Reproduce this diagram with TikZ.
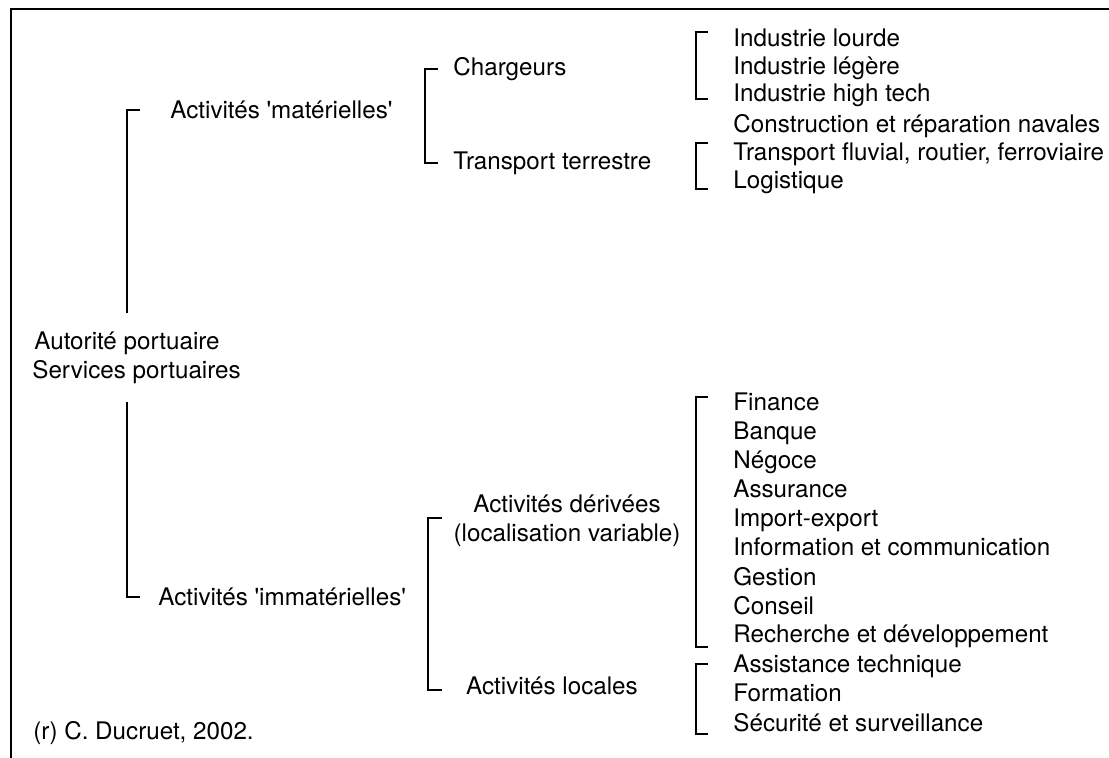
\documentclass[tikz,border=0pt]{standalone}
\usepackage{fontspec}
\setmainfont{TeX Gyre Heros}
\begin{document}
\begin{tikzpicture}[x=.5pt,y=-.5pt,
                    frame/.style={line width=1pt},
                    brk/.style={line width=.8pt},
                    lbl/.style={anchor=base west,inner sep=0pt},
                    mid/.style={anchor=base,inner sep=0pt},
                    every node/.style={font=\fontsize{12.1}{14.5}\selectfont}]
 \useasboundingbox (0,0) rectangle (1109,758);
 \draw[frame] (1109,9)--(11,9)--(11,758);
 % root
 \node[lbl] (auto) at (34,350) {Autorité portuaire};
 \node[lbl] (serv) at (32,379) {Services portuaires};
 \coordinate (mtop) at (127,110); \coordinate (mcuta) at (127,313);
 \coordinate (mcutb) at (127,402); \coordinate (mbot) at (127,597);
 \draw[brk] (mtop) ++(13,0)--(mtop)--(mcuta);
 \draw[brk] (mcutb)--(mbot)--++(13,0);
 \node[lbl] (mat) at (170,119) {Activités \textquotesingle matérielles\textquotesingle};
 \node[lbl] (immat) at (158,606) {Activités \textquotesingle immatérielles\textquotesingle};
 % materielles
 \coordinate (atop) at (425,69); \coordinate (abot) at (425,163);
 \draw[brk] (atop) ++(13,0)--(atop)--(abot)--++(13,0);
 \node[lbl] (charg) at (453,76) {Chargeurs};
 \node[lbl] (terr) at (453,170) {Transport terrestre};
 \coordinate (btop) at (696,32); \coordinate (bbot) at (696,99);
 \draw[brk] (btop) ++(12,0)--(btop)--(bbot)--++(12,0);
 \coordinate (ctop) at (696,143); \coordinate (cbot) at (696,189);
 \draw[brk] (ctop) ++(12,0)--(ctop)--(cbot)--++(12,0);
 \node[lbl] (lourd) at (733,47) {Industrie lourde};
 \node[lbl] (leger) at (733,75) {Industrie légère};
 \node[lbl] (htech) at (733,102) {Industrie high tech};
 \node[lbl] (naval) at (733,133) {Construction et réparation navales};
 \node[lbl] (fluv) at (733,161) {Transport fluvial, routier, ferroviaire};
 \node[lbl] (logi) at (733,189) {Logistique};
 % immaterielles
 \coordinate (dtop) at (428,518); \coordinate (dbot) at (428,690);
 \draw[brk] (dtop) ++(14,0)--(dtop)--(dbot)--++(14,0);
 \node[mid] (deriv) at (567,513) {Activités dérivées};
 \node[mid] (locvar) at (567,542) {(localisation variable)};
 \node[mid] (local) at (552,695) {Activités locales};
 \coordinate (etop) at (696,397); \coordinate (ebot) at (696,647);
 \draw[brk] (etop) ++(12,0)--(etop)--(ebot)--++(12,0);
 \coordinate (ftop) at (696,664); \coordinate (fbot) at (696,734);
 \draw[brk] (ftop) ++(12,0)--(ftop)--(fbot)--++(12,0);
 \node[lbl] (fin) at (733,411) {Finance};
 \node[lbl] (banq) at (733,440) {Banque};
 \node[lbl] (nego) at (733,469) {Négoce};
 \node[lbl] (assu) at (733,498) {Assurance};
 \node[lbl] (impo) at (733,527) {Import-export};
 \node[lbl] (info) at (733,556) {Information et communication};
 \node[lbl] (gest) at (733,586) {Gestion};
 \node[lbl] (cons) at (733,615) {Conseil};
 \node[lbl] (rech) at (733,643) {Recherche et développement};
 \node[lbl] (assi) at (733,673) {Assistance technique};
 \node[lbl] (form) at (733,702) {Formation};
 \node[lbl] (secu) at (733,732) {Sécurité et surveillance};
 \node[lbl] (src) at (33,740) {(r) C. Ducruet, 2002.};
\end{tikzpicture}
\end{document}
